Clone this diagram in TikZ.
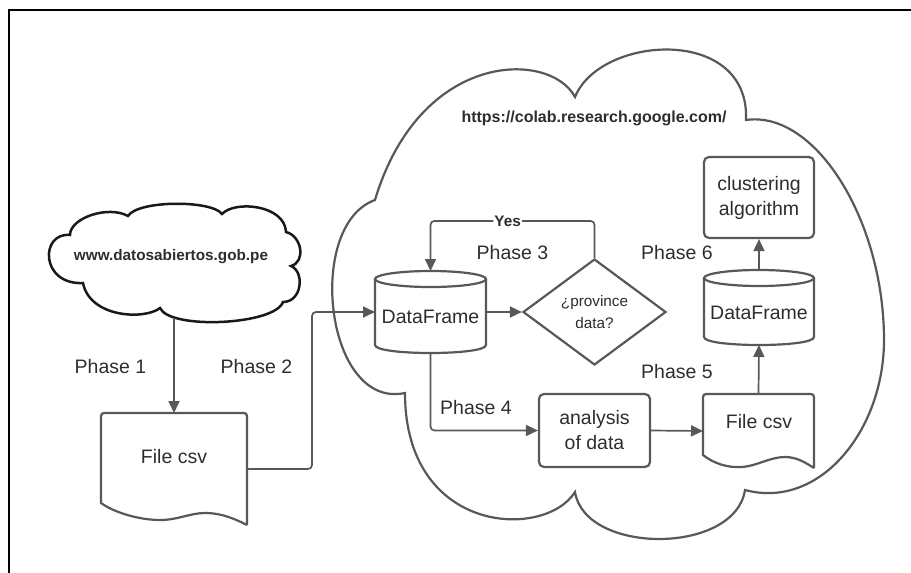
\documentclass[tikz,border=0pt]{standalone}
\usepackage{fontspec}
\setmainfont{Liberation Sans}
\usetikzlibrary{arrows.meta,shapes.geometric,calc}
\definecolor{lg}{RGB}{88,88,88}
\definecolor{tc}{RGB}{45,45,45}
\definecolor{cloudk}{RGB}{25,25,25}
\newcommand{\mf}{\fontsize{19.5pt}{25pt}\selectfont}
\newcommand{\dbcyl}[6]{%
  \node[box, minimum width=#4pt, minimum height=#5pt] (#1) at (#2,-#3) {};
  \draw[shp] ($(#1.north)+(0,-8)$) ellipse [x radius=#4/2, y radius=8];
  \draw[shp] ($(#1.north west)+(0,-8)$) -- ($(#1.south west)+(0,8)$)
    .. controls ($(#1.south west)+(0,-2.67)$) and ($(#1.south east)+(0,-2.67)$) .. ($(#1.south east)+(0,8)$)
    -- ($(#1.north east)+(0,-8)$);
  \node[txt] (#1-t) at ($(#1)+(0,-5)$) {#6};
}
\begin{document}
\begin{tikzpicture}[x=1pt,y=1pt,
  box/.style={draw=none, inner sep=0pt, outer sep=0pt},
  shp/.style={draw=lg, line width=2.2pt},
  txt/.style={text=tc, font=\mf, inner sep=0pt, align=center},
  lbl/.style={text=tc, font=\mf, inner sep=0pt},
  proc/.style={draw=lg, line width=2.2pt, rounded corners=5pt, inner sep=0pt, align=center, font=\mf, text=tc},
  dia/.style={diamond, draw=lg, line width=2.2pt, inner sep=0pt, align=center, text=tc, font=\fontsize{15.3pt}{22pt}\selectfont},
  con/.style={draw=lg, line width=1.7pt, rounded corners=4pt},
  arr/.style={con, -{Triangle[length=12pt,width=11pt]}},
  bigc/.style={draw=lg, line width=2.2pt},
  smallc/.style={draw=cloudk, line width=2.5pt},
  btxt/.style={text=tc, inner sep=1pt, font=\fontsize{15.3pt}{18pt}\selectfont\bfseries}
]
\useasboundingbox (0,0) rectangle (911,-573);
% frame
\draw[black, line width=2.5pt] (9,-573) -- (9,-10) -- (911,-10);

% big cloud
\draw[bigc] (375,-200) .. controls (420,-50) and (550,-50) .. (575,-97)
 .. controls (600,-35) and (750,-25) .. (746,-120)
 .. controls (815,-110) and (884,-220) .. (884,-340)
 .. controls (884,-430) and (820,-510) .. (745,-490)
 .. controls (735,-555) and (585,-555) .. (575,-492)
 .. controls (545,-540) and (405,-535) .. (405,-393)
 .. controls (325,-410) and (305,-225) .. (375,-200) -- cycle;
\node[btxt, font=\fontsize{16pt}{18pt}\selectfont\bfseries] (url) at (594,-118) {https://colab.research.google.com/};

% small cloud
\draw[smallc] (70,-235) .. controls (70,-218) and (108,-205) .. (128,-216)
 .. controls (138,-200) and (212,-200) .. (222,-214)
 .. controls (235,-200) and (285,-205) .. (286,-232)
 .. controls (302,-236) and (306,-262) .. (291,-266)
 .. controls (305,-272) and (302,-302) .. (283,-302)
 .. controls (275,-325) and (170,-330) .. (160,-308)
 .. controls (145,-320) and (90,-318) .. (83,-283)
 .. controls (40,-285) and (40,-232) .. (70,-235) -- cycle;
\node[btxt] (src) at (171,-257) {www.datosabiertos.gob.pe};
\coordinate (srcb) at (174,-318);

% left document
\node[box, minimum width=146pt, minimum height=112pt] (doc1) at (174,-469) {};
\draw[shp] (247,-525) [rounded corners=3pt] -- (247,-413) -- (101,-413) [sharp corners] -- (101,-503)
 .. controls (115,-513) and (140,-520) .. (160,-520)
 .. controls (178,-520) and (190,-513) .. (205,-513)
 .. controls (222,-513) and (235,-519) .. (247,-525);
\node[txt] (doc1-t) at (174,-457) {File csv};

% right document
\node[box, minimum width=111pt, minimum height=74pt] (doc2) at (758.5,-431) {};
\draw[shp] (814,-468) [rounded corners=3pt] -- (814,-394) -- (703,-394) [sharp corners] -- (703,-455)
 .. controls (713,-463) and (727,-468) .. (742,-467)
 .. controls (757,-466) and (770,-457) .. (785,-457)
 .. controls (797,-457) and (806,-463) .. (814,-468);
\node[txt] (doc2-t) at (759,-422) {File csv};

% cylinders
\dbcyl{df1}{430.5}{312}{111}{82}{DataFrame}
\dbcyl{df2}{759}{307.5}{110}{75}{DataFrame}

% diamond and boxes
\node[dia, minimum width=143pt, minimum height=106pt] (dia) at (594.5,-312) {¿province\\data?};
\node[proc, minimum width=110pt, minimum height=81pt] (clus) at (759,-197.5) {clustering\\algorithm};
\node[proc, minimum width=111pt, minimum height=73pt] (ana) at (594.5,-430.5) {analysis\\of data};

% labels
\node[lbl] (p1) at (110.5,-367) {Phase 1};
\node[lbl] (p2) at (256.5,-367) {Phase 2};
\node[lbl] (p3) at (512.5,-253) {Phase 3};
\node[lbl] (p4) at (476,-408) {Phase 4};
\node[lbl] (p5) at (677,-372) {Phase 5};
\node[lbl] (p6) at (677,-253) {Phase 6};

% connectors
\draw[arr] (srcb) -- (doc1.north);
\draw[arr] (doc1.east) -| ([xshift=-63pt]df1.west) -- (df1.west);
\draw[arr] (df1.east) -- (dia.west);
\draw[arr] (dia.north) -- ++(0,37) -| node[pos=0.265, btxt, fill=white] {Yes} (df1.north);
\draw[arr] (df1.south) |- (ana.west);
\draw[arr] (ana.east) -- (doc2.west);
\draw[arr] (doc2.north) -- (df2.south);
\draw[arr] (df2.north) -- (clus.south);
\end{tikzpicture}
\end{document}
